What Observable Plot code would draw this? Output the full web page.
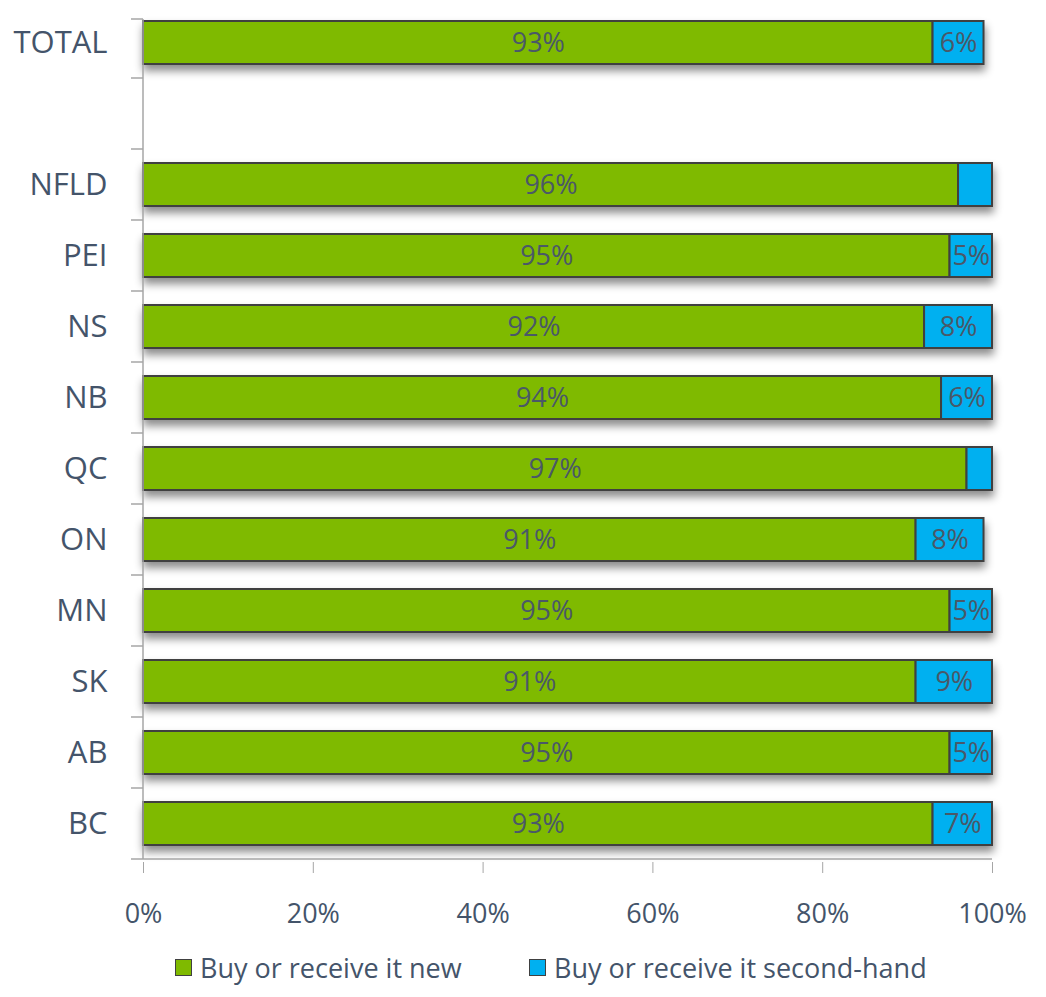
<!DOCTYPE html>
<html>
<head>
<meta charset="utf-8">
<script src="https://cdn.jsdelivr.net/npm/d3@7"></script>
<script src="https://cdn.jsdelivr.net/npm/@observablehq/plot@0.6"></script>
<style>
  html, body { margin: 0; padding: 0; background: #fff; }
  #chart { width: 1046px; }
  .legend { position: relative; height: 52px; font-family: "Open Sans", sans-serif; font-size: 27px; color: #44546a; }
  .legend .item { position: absolute; top: 4px; display: flex; align-items: center; }
  .legend .sw { width: 17px; height: 17px; border: 1.5px solid #404040; margin-right: 8px; box-sizing: border-box; }
</style>
</head>
<body>
<div id="chart"></div>
<script>
const categories = ["TOTAL", " ", "NFLD", "PEI", "NS", "NB", "QC", "ON", "MN", "SK", "AB", "BC"];
const dataCategories = ["TOTAL", "NFLD", "PEI", "NS", "NB", "QC", "ON", "MN", "SK", "AB", "BC"];
const newPct = [93, 96, 95, 92, 94, 97, 91, 95, 91, 95, 93];
const secondPct = [6, 4, 5, 8, 6, 3, 8, 5, 9, 5, 7];
const secondShown = [true, false, true, true, true, false, true, true, true, true, true];
const xTicks = [0, 20, 40, 60, 80, 100];
const seriesNames = ["Buy or receive it new", "Buy or receive it second-hand"];
const seriesColors = ["#7fba00", "#00b0f0"];

const rows = [];
dataCategories.forEach((c, i) => {
  rows.push({cat: c, series: seriesNames[0], value: newPct[i], label: newPct[i] + "%"});
  rows.push({cat: c, series: seriesNames[1], value: secondPct[i], label: secondShown[i] ? secondPct[i] + "%" : ""});
});

const W = 1046, H = 945, mL = 143, mR = 54, mT = 3, mB = 83;

const plot = Plot.plot({
  width: W, height: H,
  marginLeft: mL, marginRight: mR, marginTop: mT, marginBottom: mB,
  style: {fontFamily: "'Open Sans', sans-serif", background: "#fff"},
  x: {domain: [0, 100], ticks: xTicks, tickFormat: d => d + "%"},
  y: {domain: categories, paddingInner: 0.4, paddingOuter: 0.2},
  color: {domain: seriesNames, range: seriesColors},
  marks: [
    Plot.barX(rows, Plot.stackX({x: "value", y: "cat", fill: "series", stroke: "#404040", strokeWidth: 2, order: null})),
    Plot.textX(rows, Plot.stackX({x: "value", y: "cat", text: "label", fill: "#4a5868", fontSize: 27, order: null})),
    Plot.axisX({ticks: xTicks, tickFormat: d => d + "%", tickSize: 11, tickPadding: 30, stroke: "#a6a6a6", fill: "#44546a", fontSize: 27, label: null}),
    Plot.axisY({tickSize: 0, tickPadding: 36, fill: "#44546a", fontSize: 31, label: null})
  ]
});
document.getElementById("chart").appendChild(plot);

// shadow beneath bars
d3.select(plot).selectAll('g[aria-label="bar"]').style("filter", "drop-shadow(1px 6px 4px rgba(0,0,0,0.45))");

// axis lines and boundary ticks derived from the plot's scales
const ys = plot.scale("y");
const xs = plot.scale("x");
const svg = d3.select(plot);
const step = ys.step, bw = ys.bandwidth;
const bounds = categories.map(c => ys.apply(c) - (step - bw) / 2);
bounds.push(ys.apply(categories[categories.length - 1]) + bw + (step - bw) / 2);
const x0 = xs.apply(0), x100 = xs.apply(100);
const yTop = bounds[0] + 12, yBottom = bounds[bounds.length - 1];
const g = svg.append("g").attr("stroke", "#a6a6a6").attr("stroke-width", 1.5);
bounds.forEach((b, i) => {
  const yy = i === 0 ? yTop : b;
  g.append("line").attr("x1", x0 - 12).attr("x2", x0).attr("y1", yy).attr("y2", yy);
});
g.append("line").attr("x1", x0).attr("x2", x0).attr("y1", yTop).attr("y2", yBottom);
g.append("line").attr("x1", x0).attr("x2", x100).attr("y1", yBottom).attr("y2", yBottom);

// legend
const legend = d3.select("body").append("div").attr("class", "legend");
const lx = [175, 529];
seriesNames.forEach((s, i) => {
  const it = legend.append("div").attr("class", "item").style("left", lx[i] + "px");
  it.append("div").attr("class", "sw").style("background", seriesColors[i]);
  it.append("span").text(s);
});
</script>
</body>
</html>
